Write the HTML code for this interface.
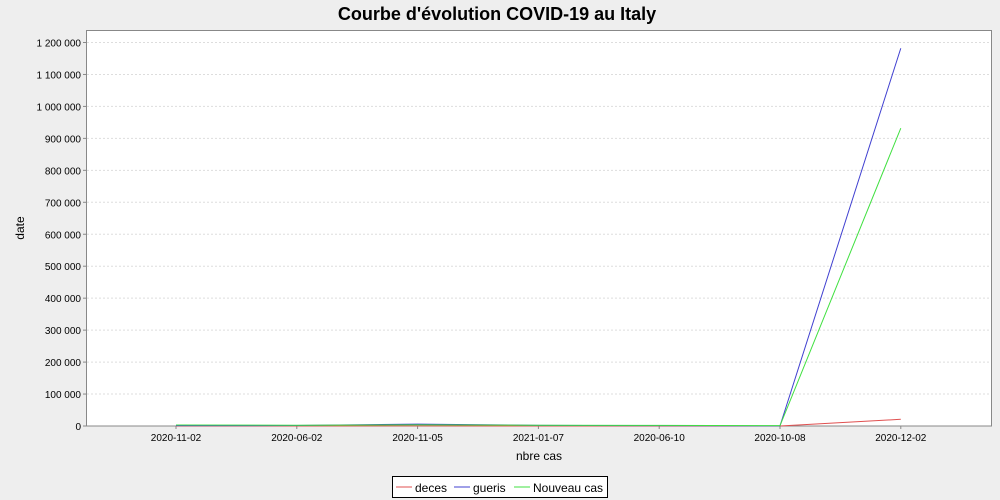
<!DOCTYPE html>
<html><head><meta charset="utf-8"><style>
body{margin:0;background:#eeeeee;}
svg{display:block;font-family:"Liberation Sans",sans-serif;}
</style></head><body>
<svg id="chart" width="1000" height="500">
<rect width="1000" height="500" fill="#eeeeee"/>
<text x="497" y="20" text-anchor="middle" font-size="18" font-weight="bold" fill="#000">Courbe d'évolution COVID-19 au Italy</text>
<rect x="86.5" y="30.5" width="905" height="395.5" fill="#fff" stroke="#888"/>
<g id="grid"></g><g id="yticks"></g><g id="xticks"></g><g id="series"></g>
<text x="24" y="228" transform="rotate(-90 24 228)" text-anchor="middle" font-size="12">date</text>
<text x="539" y="460" text-anchor="middle" font-size="12">nbre cas</text>
<g>
<rect x="392.5" y="476.5" width="215" height="21" fill="#fff" stroke="#000"/>
<line x1="396" y1="487" x2="412" y2="487" stroke="#e05050"/><text x="415" y="492" font-size="12">deces</text>
<line x1="454" y1="487" x2="470" y2="487" stroke="#4040d0"/><text x="473" y="492" font-size="12">gueris</text>
<line x1="514" y1="487" x2="530" y2="487" stroke="#40e040"/><text x="533" y="492" font-size="12">Nouveau cas</text>
</g>
</svg>
<script>
const categories=["2020-11-02","2020-06-02","2020-11-05","2021-01-07","2020-06-10","2020-10-08","2020-12-02"];
const deces=[100,100,300,100,100,100,21000];
const gueris=[1000,1500,6000,2000,1000,500,1182000];
const nouveau=[3000,2500,3500,2500,2000,1000,932000];
const yTicks=[0,100000,200000,300000,400000,500000,600000,700000,800000,900000,1000000,1100000,1200000];
const yTickLabels=["0","100 000","200 000","300 000","400 000","500 000","600 000","700 000","800 000","900 000","1 000 000","1 100 000","1 200 000"];
const NS="http://www.w3.org/2000/svg";
const y=v=>426-v*(426-42.5)/1200000;
const x=i=>176+i*120.8;
function mk(t,a,p){const e=document.createElementNS(NS,t);for(const k in a)e.setAttribute(k,a[k]);p.appendChild(e);return e;}
const g=document.getElementById('grid'),yt=document.getElementById('yticks'),xt=document.getElementById('xticks'),s=document.getElementById('series');
yTicks.forEach((v,i)=>{
 if(v>0){const l=mk('line',{x1:87,x2:991,y1:y(v),y2:y(v),stroke:'#ddd','stroke-dasharray':'2,2'},g);
 
 }
 mk('line',{x1:83,x2:86,y1:y(v),y2:y(v),stroke:'#888'},yt);
 const t=mk('text',{x:81,y:y(v)+4,'text-anchor':'end','font-size':'10'},yt);t.textContent=yTickLabels[i];
 
 
});
categories.forEach((c,i)=>{
 mk('line',{x1:x(i),x2:x(i),y1:426,y2:429,stroke:'#888'},xt);
 const t=mk('text',{x:x(i),y:441,'text-anchor':'middle','font-size':'10'},xt);t.textContent=c;
 
 
});
[[deces,'#e05050','deces'],[gueris,'#4040d0','gueris'],[nouveau,'#40e040','nouveau-cas']].forEach(([d,c,n])=>{
 const p=mk('polyline',{points:d.map((v,i)=>x(i)+','+y(v)).join(' '),fill:'none',stroke:c},s);
 
 
});
</script>
</body></html>
